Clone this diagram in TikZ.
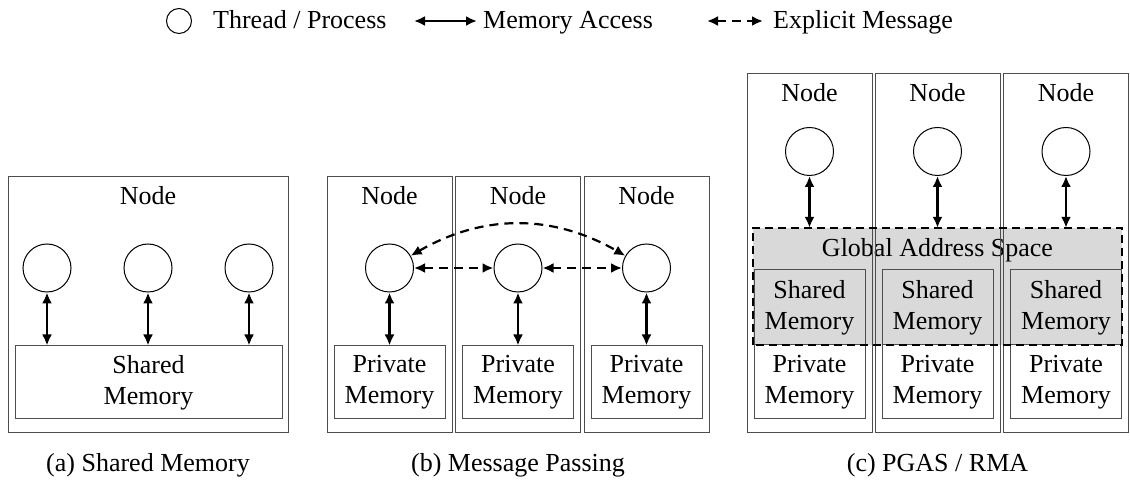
\documentclass[tikz,border=0pt]{standalone}
\usepackage{fontspec}
\setmainfont{Liberation Serif}
\usetikzlibrary{arrows.meta, positioning, calc, backgrounds}
\definecolor{boxline}{HTML}{4D4D4D}
\definecolor{gasfill}{HTML}{D9D9D9}

\tikzset{
  txt/.style={font=\fontsize{26}{31}\selectfont, inner sep=0pt, align=center},
  nodebox/.style={draw=boxline, line width=1pt, minimum width=125pt,
                  minimum height=256pt, inner sep=0pt},
  membox/.style={txt, draw=boxline, line width=1pt, minimum width=111pt, minimum height=73pt},
  proc/.style={circle, draw, line width=1pt, minimum size=48pt, inner sep=0pt},
  acc/.style={{Latex[length=11pt,width=10pt]}-{Latex[length=11pt,width=10pt]}, line width=2.2pt},
  msg/.style={acc, dash pattern=on 9pt off 6pt},
}

\begin{document}
\begin{tikzpicture}[x=1pt, y=1pt]
\useasboundingbox (0,0) rectangle (1130,482);

% legend
\node[proc, minimum size=25pt] (lg-proc) at (179,461) {};
\node[txt, anchor=base west] (lg-proc-t) at (213,453) {Thread / Process};
\coordinate (lg-acc-a) at (414,461);
\coordinate (lg-acc-b) at (477,461);
\draw[acc] (lg-acc-a) -- (lg-acc-b);
\node[txt, anchor=base west] (lg-acc-t) at (483,453) {Memory Access};
\coordinate (lg-msg-a) at (707,461);
\coordinate (lg-msg-b) at (763,461);
\draw[msg] (lg-msg-a) -- (lg-msg-b);
\node[txt, anchor=base west] (lg-msg-t) at (773,453) {Explicit Message};

% (a) shared memory
\node[nodebox, minimum width=280pt] (a) at (148,177) {};
\node[txt] (a-lbl) at ([yshift=-19pt]a.north) {Node};
\node[membox, minimum width=267pt] (a-mem) at (148.5,99.5) {Shared\\Memory};
\foreach \x [count=\i] in {47,148,249} {
  \node[proc] (a-p\i) at (\x,214) {};
  \draw[acc] (a-p\i) -- (a-p\i |- a-mem.north);
}
\node[txt] (a-cap) at (148,17) {(a) Shared Memory};

% (b) message passing
\foreach \x [count=\i] in {389.5,518,646.5} {
  \node[nodebox] (b\i) at (\x,177) {};
  \node[txt] (b\i-lbl) at ([yshift=-19pt]b\i.north) {Node};
  \node[proc] (b\i-p) at (\x,214) {};
  \node[membox] (b\i-mem) at (\x,99.5) {Private\\Memory};
  \draw[acc] (b\i-p) -- (b\i-mem);
}
\draw[msg] (b1-p) -- (b2-p);
\draw[msg] (b2-p) -- (b3-p);
\draw[msg] (b1-p) to[bend left=30] (b3-p);
\node[txt] (b-cap) at (518,17) {(b) Message Passing};

% (c) PGAS / RMA
\node[fill=gasfill, minimum width=369pt, minimum height=117pt, inner sep=0pt] (gas) at (937.5,195.5) {};
\node[txt] (gas-lbl) at (937.5,232) {Global Address Space};
\foreach \x [count=\i] in {809.5,937.5,1066} {
  \node[nodebox, minimum height=359pt] (c\i) at (\x,228.5) {};
  \node[txt] (c\i-lbl) at ([yshift=-19pt]c\i.north) {Node};
  \node[proc] (c\i-p) at (\x,330.5) {};
  \node[membox, fill=gasfill, minimum height=75pt] (c\i-sh) at (\x,174.5) {Shared\\Memory};
  \node[membox, minimum height=74pt] (c\i-mem) at (\x,100) {Private\\Memory};
  \draw[acc] (c\i-p) -- (c\i-p |- gas.north);
}
\draw[line width=1.8pt, dash pattern=on 8pt off 5pt] (gas.south west) rectangle (gas.north east);
\node[txt] (c-cap) at (937.5,17) {(c) PGAS / RMA};
\end{tikzpicture}
\end{document}
